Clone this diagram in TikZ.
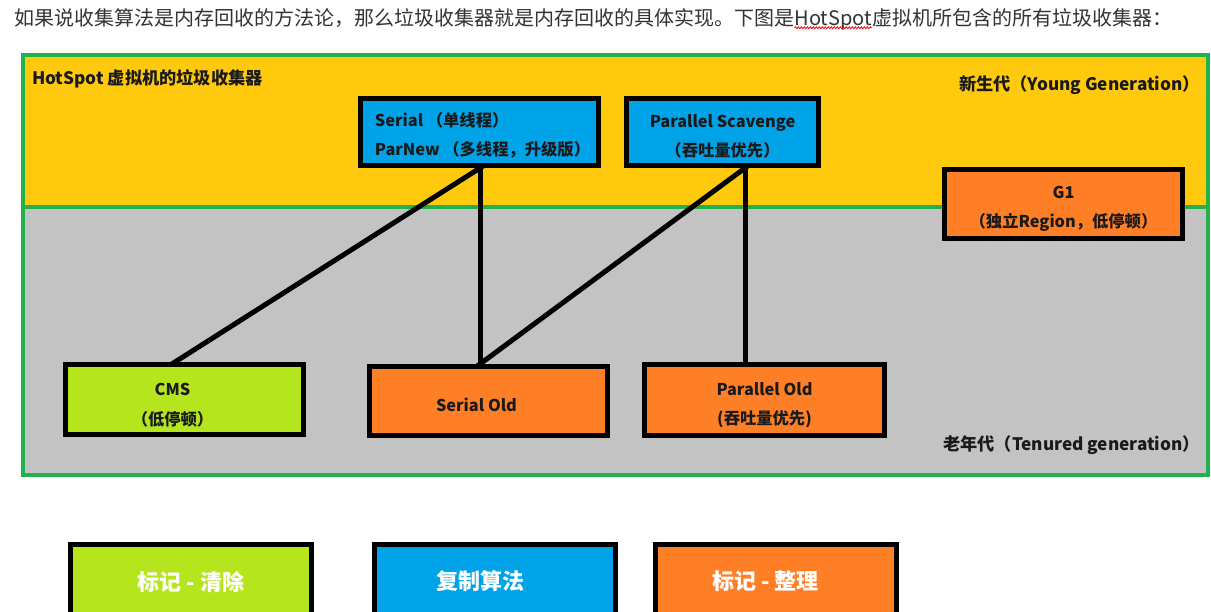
\documentclass[tikz,border=0pt]{standalone}
\usepackage{fontspec}
\setmainfont{Noto Sans CJK SC}
\usetikzlibrary{calc,decorations.pathmorphing}
\definecolor{frameGreen}{HTML}{22B14C}
\definecolor{youngYellow}{HTML}{FFC90E}
\definecolor{oldGray}{HTML}{C3C3C3}
\definecolor{cblue}{HTML}{00A2E8}
\definecolor{corange}{HTML}{FF7F27}
\definecolor{clime}{HTML}{B5E61D}
\definecolor{txt}{HTML}{1A1A1A}
\definecolor{sent}{HTML}{333333}
\pgfdeclarelayer{back}
\pgfdeclarelayer{lines}
\pgfsetlayers{back,lines,main}
\begin{document}
\begin{tikzpicture}[x=1pt,y=-1pt,
  box/.style={draw=black, line width=5pt, inner sep=0pt},
  boxtxt/.style={inner sep=0pt, align=center, text=txt,
    font=\fontsize{16.3}{29.5}\selectfont\bfseries},
  bigbox/.style={draw=black, line width=5pt, inner sep=0pt,
    minimum width=241pt, minimum height=94pt},
  bigtxt/.style={inner sep=0pt, text=white, font=\fontsize{22}{26}\selectfont\bfseries},
  regionlabel/.style={inner sep=0pt, text=txt, font=\fontsize{17.2}{20}\selectfont\bfseries},
  sentence/.style={inner sep=0pt, text=sent, font=\fontsize{20}{22}\selectfont},
  link/.style={line width=5pt, draw=black}]
\begin{pgfonlayer}{back}
\fill[white] (0,0) rectangle (1211,611);
\end{pgfonlayer}
\useasboundingbox (0,0) rectangle (1211,611);

% top sentence
\node[sentence, anchor=base west] (s1) at (14,25) {如果说收集算法是内存回收的方法论，那么垃圾收集器就是内存回收的具体实现。下图是};
\node[sentence, anchor=base west] (hs) at (s1.base east) {HotSpot};
\node[sentence, anchor=base west] (s2) at (hs.base east) {虚拟机所包含的所有垃圾收集器：};
\draw[red, line width=0.8pt, decorate, decoration={snake, amplitude=1pt, segment length=3pt}]
  ([yshift=2pt]hs.south west) -- ([yshift=2pt]hs.south east);

% regions
\begin{pgfonlayer}{back}
\fill[youngYellow] (23,55) rectangle (1208,207);
\fill[oldGray] (23,207) rectangle (1208,475);
\draw[frameGreen, line width=4pt] (23,207) -- (1208,207);
\draw[frameGreen, line width=4pt] (23,55) rectangle (1208,475);
\end{pgfonlayer}

\node[regionlabel, anchor=west] (title) at (32,79) {HotSpot 虚拟机的垃圾收集器};
\node[regionlabel, anchor=east] (young) at (1200,85) {新生代（Young Generation）};
\node[regionlabel, anchor=east] (old) at (1200,445) {老年代（Tenured generation）};

% collectors
\node[box, fill=cblue, minimum width=238pt, minimum height=67pt] (serial) at (479.5,132) {};
\node[box, fill=cblue, minimum width=192pt, minimum height=67pt] (ps) at (722.5,132) {};
\node[box, fill=corange, minimum width=238pt, minimum height=69pt] (g1) at (1063.5,204) {};
\node[box, fill=clime, minimum width=238pt, minimum height=70pt] (cms) at (184.5,399.5) {};
\node[box, fill=corange, minimum width=238pt, minimum height=69pt] (sold) at (488.5,401) {};
\node[box, fill=corange, minimum width=240pt, minimum height=71pt] (pold) at (764.5,400) {};

\node[boxtxt, align=left] (serialt) at ($(serial.center)+(3,3)$) {Serial （单线程）\\ParNew （多线程，升级版）};
\node[boxtxt] (pst) at ($(ps.center)+(0,4.5)$) {Parallel Scavenge\\（吞吐量优先）};
\node[boxtxt] (g1t) at ($(g1.center)+(0,5)$) {G1\\（独立Region，低停顿）};
\node[boxtxt] (cmst) at ($(cms.center)+(-12,5.5)$) {CMS\\（低停顿）};
\node[boxtxt] (soldt) at ($(sold.center)+(-12,4)$) {Serial Old};
\node[boxtxt] (poldt) at ($(pold.center)+(0,5)$) {Parallel Old\\(吞吐量优先)};

% connector end points on the box edges
\coordinate (serialB) at ($(serial.south)+(0.5,0)$);
\coordinate (psB) at ($(ps.south)+(22.5,0)$);
\coordinate (cmsT) at ($(cms.north)+(-9.5,0)$);
\coordinate (soldT) at ($(sold.north)+(-8.5,0)$);
\coordinate (poldT) at ($(pold.north)+(-19.5,0)$);

% connectors
\begin{pgfonlayer}{lines}
\draw[link] ($(serialB)!-4pt!(cmsT)$) -- ($(cmsT)!-4pt!(serialB)$);
\draw[link] ($(serialB)!-4pt!(soldT)$) -- ($(soldT)!-4pt!(serialB)$);
\draw[link] ($(psB)!-4pt!(soldT)$) -- ($(soldT)!-4pt!(psB)$);
\draw[link] ($(psB)!-4pt!(poldT)$) -- ($(poldT)!-4pt!(psB)$);
\end{pgfonlayer}

% legend boxes
\node[bigbox, fill=clime] (mc) at (191,591) {};
\node[bigbox, fill=cblue] (cp) at (494.5,591) {};
\node[bigbox, fill=corange] (mz) at (775.5,591) {};
\node[bigtxt] (mct) at ($(mc.north)+(0,40)$) {标记 - 清除};
\node[bigtxt] (cpt) at ($(cp.north)+(-14,40)$) {复制算法};
\node[bigtxt] (mzt) at ($(mz.north)+(-10,40)$) {标记 - 整理};
\end{tikzpicture}
\end{document}
